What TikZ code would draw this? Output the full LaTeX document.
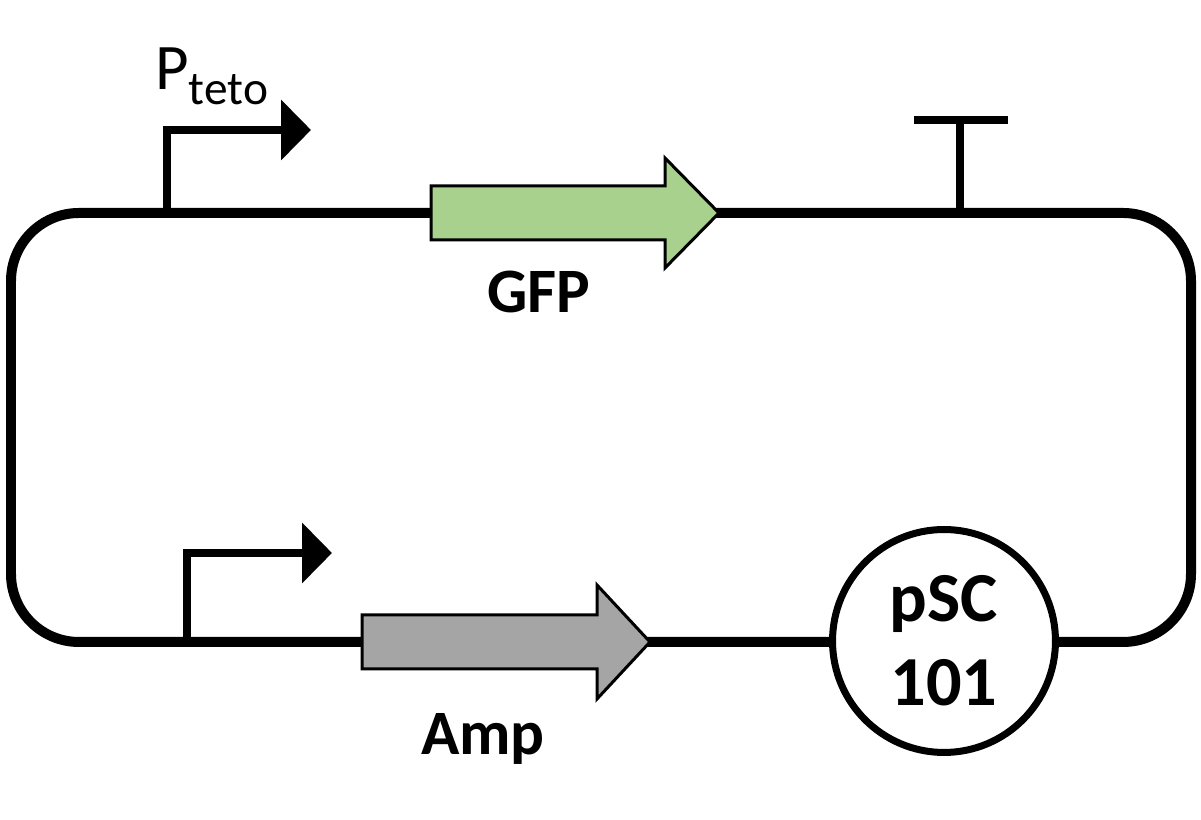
\documentclass[tikz,border=0pt]{standalone}
\usepackage{fontspec}
\setmainfont{Carlito}
\usetikzlibrary{arrows.meta,positioning}

\definecolor{gfpgreen}{HTML}{A9D18E}
\definecolor{ampgray}{HTML}{A5A5A5}

\tikzset{
  backbone/.style={line width=0.2cm, rounded corners=1.36cm},
  promoter/.style={line width=0.17cm, -{Triangle[length=0.6cm, width=1.18cm]}},
  terminator/.style={line width=0.16cm},
  cds/.style={draw=black, line width=0.06cm, line join=miter},
  genelabel/.style={inner sep=0pt, anchor=base, font=\bfseries\fontsize{36}{36}\selectfont},
}

\begin{document}
\begin{tikzpicture}[x=0.02cm, y=0.02cm]
    \useasboundingbox (0,0) rectangle (1201,820);
%    plasmid backbone
    \draw[backbone] (11,607) rectangle (1191,178);
    \coordinate (ptet) at (167,607);
    \coordinate (ptettip) at (311,690);
    \coordinate (pamp) at (187,178);
    \coordinate (pamptip) at (332,267);
    \coordinate (term) at (960,607);
    \coordinate (termtop) at (960,700);
    \draw[promoter] (ptet) |- (ptettip);
    \draw[promoter] (pamp) |- (pamptip);
    \draw[terminator] (term) -- (termtop);
    \draw[terminator] (termtop) ++(-46,0) -- ++(94,0);
    \draw[cds, fill=gfpgreen] (431,580) -- (665,580) -- (665,552) -- (719,607)
        -- (665,662) -- (665,634) -- (431,634) -- cycle;
    \draw[cds, fill=ampgray] (362,151) -- (597,151) -- (597,121) -- (650,178)
        -- (597,235) -- (597,205) -- (362,205) -- cycle;
    \node[circle, draw, fill=white, line width=0.14cm, minimum size=4.46cm, inner sep=0pt,
          align=center, font=\bfseries\fontsize{40}{48}\selectfont] (ori) at (944,179) {pSC\\101};
    \node[inner sep=0pt, anchor=base west, font=\fontsize{37}{37}\selectfont] (ptetlabel) at (155,730)
        {P\raisebox{-0.3cm}{\fontsize{27}{27}\selectfont teto}};
    \node[genelabel] (gfplabel) at (539,507) {GFP};
    \node[genelabel] (amplabel) at (483,65) {Amp};
\end{tikzpicture}
\end{document}
